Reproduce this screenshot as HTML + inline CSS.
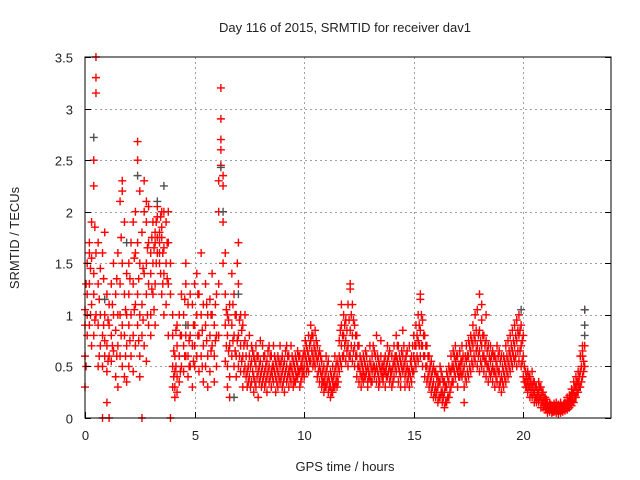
<!DOCTYPE html>
<html><head><meta charset="utf-8"><style>
body{margin:0;background:#fff;}
svg{display:block;font-family:"Liberation Sans",sans-serif;}
</style></head><body>
<svg id="chart" width="640" height="480" viewBox="0 0 640 480">
<rect width="640" height="480" fill="#fff"/>
<g id="grid"></g>
<g id="marks"></g>
<rect x="85" y="57" width="526" height="361" fill="none" stroke="#000" stroke-width="1"/>
<g id="ticks"></g>
<text x="345" y="32" text-anchor="middle" font-size="13" fill="#222">Day 116 of 2015, SRMTID for receiver dav1</text>
<text x="345" y="471" text-anchor="middle" font-size="13" fill="#222">GPS time / hours</text>
<text x="19" y="238" text-anchor="middle" font-size="13" fill="#222" transform="rotate(-90 19 238)">SRMTID / TECUs</text>
</svg>
<script>
const xTicks=[0,5,10,15,20];
const yTicks=[0,0.5,1,1.5,2,2.5,3,3.5];
const yTickLabels=["0","0.5","1","1.5","2","2.5","3","3.5"];
const redCols=[
[0.0,.3,.6,.9,1.05],[0.1,.8,1.2,1.5,1.0],[0.2,1.6,1.3,.9,1.7],[0.3,1.55,1.1,1.9,.7],[0.4,2.25,2.5,1.4,1.2,.8],[0.5,3.5,3.3,3.15,1.6,1.0],[0.6,1.7,1.3,.5,.9],[0.7,.7,1.0,1.45],[0.8,.5,.8,1.6,0],[0.9,.6,1.0,.75,1.8],
[1.0,.45,.7,1.2,.15],[1.1,.6,.9,0,1.1],[1.2,.8,1.3,.55],[1.3,.65,1.0,1.5],[1.4,.4,.85,1.2],[1.5,.7,1.0,1.6,.3],[1.6,1.3,2.1,1.0,.6],[1.7,2.3,2.2,1.5,.9,.5],[1.8,1.2,1.9,.8,.4],[1.9,.7,1.4,1.0,.35],
[2.0,.9,1.5,1.2,.5],[2.1,1.0,1.7,.6],[2.2,.8,1.3,1.9,.45],[2.3,1.1,1.6,2.0,.7],[2.4,2.68,2.5,1.7,1.2,.9],[2.5,2.2,1.5,1.0,.6,.4],[2.6,1.1,1.8,.8,0],[2.7,1.4,2.0,2.3,.7],[2.8,1.2,1.9,1.5,.55,2.1],[2.9,.9,1.3,1.7,2.05],
[3.0,1.6,1.0,1.4,.8],[3.1,1.5,1.9,1.2],[3.2,1.7,1.8,1.3,.9],[3.3,1.75,1.6,1.95,2.05],[3.4,1.8,1.7,1.6,1.5],[3.5,1.75,1.85,1.2,2.0],[3.6,1.65,2.0,1.0,1.4],[3.7,1.5,1.1,1.9],[3.8,1.3,1.7,2.0,.8],[3.9,1.5,1.2,0],
[4.0,.5,.8,.3,1.0],[4.1,.3,.6,.2,.45],[4.2,.4,.7,.25,.9],[4.3,.6,1.0,.35],[4.4,.5,.8,1.2],[4.5,.7,.45,1.0],[4.6,.8,1.3,.6,1.5],[4.7,.6,1.1,.4,.9],[4.8,.5,.8,1.2],[4.9,.7,1.1,.3],
[5.0,.9,1.3,.5,.7],[5.1,.6,1.0,1.4],[5.2,.8,1.2,.45],[5.3,1.0,.6,1.6],[5.4,.7,1.1,.35],[5.5,.9,.5,1.3],[5.6,.6,1.0,.3],[5.7,.8,1.15,.45],[5.8,1.0,.7,1.4],[5.9,.6,.9,.35],
[6.0,.8,1.2,.5],[6.1,2.3,2.0,1.3,.8],[6.2,3.2,2.9,2.7,2.6,2.45],[6.3,2.35,2.25,1.9,1.5],[6.4,.9,1.6,1.2,.55],[6.5,.5,.8,.3,1.0],[6.6,.7,1.1,.4,.2],[6.7,.9,1.4,.6],[6.8,.5,.8,1.2],[6.9,.6,1.0,.4],
[7.0,.8,1.3,1.7,.5],[7.1,.7,1.0,.45],[7.2,.6,.9,.3],[7.3,.5,.75,1.0],[7.4,.45,.7,.3],[7.5,.4,.6,.8],[7.6,.35,.55,.7],[7.7,.4,.6,.25],[7.8,.5,.7,.3],[7.9,.45,.6,.2],
[8.0,.4,.55,.75],[8.1,.5,.35,.7],[8.2,.45,.3,.6],[8.3,.4,.55,.25],[8.4,.5,.7,.35],[8.5,.3,.45,.6],[8.6,.35,.5,.7],[8.7,.4,.55,.25],[8.8,.45,.6,.3],[8.9,.5,.35,.7],
[9.0,.45,.3,.6],[9.1,.4,.55,.25],[9.2,.5,.7,.35],[9.3,.45,.6,.3],[9.4,.35,.5,.7],[9.5,.4,.55,.3],[9.6,.45,.6,.35],[9.7,.5,.4,.65],[9.8,.45,.3,.6],[9.9,.4,.55,.5],
[10.0,.5,.65,.4],[10.1,.55,.7,.45],[10.2,.6,.8,.45],[10.3,.55,.75,.9],[10.4,.6,.8,.5],[10.5,.65,.85,.5],[10.6,.55,.7,.4],[10.7,.5,.65,.35],[10.8,.4,.55,.3],[10.9,.35,.5,.25],
[11.0,.3,.45,.6],[11.1,.25,.4,.55],[11.2,.3,.45,.2],[11.3,.35,.5,.25],[11.4,.3,.45,.6],[11.5,.4,.55,.3],[11.6,.45,.6,.75],[11.7,.5,.7,.9,1.1],[11.8,.6,.8,1.0],[11.9,.55,.75,.95],
[12.0,.5,.7,1.1],[12.1,.6,.85,1.3,1.25],[12.2,.55,.8,1.1],[12.3,.5,.7,.9],[12.4,.4,.6,.8],[12.5,.35,.5,.7],[12.6,.4,.55,.3],[12.7,.45,.6,.35],[12.8,.4,.5,.65],[12.9,.35,.5,.3],
[13.0,.4,.55,.7],[13.1,.45,.6,.35],[13.2,.4,.5,.65],[13.3,.35,.5,.8],[13.4,.4,.55,.3],[13.5,.45,.6,.75],[13.6,.4,.5,.35],[13.7,.45,.6,.3],[13.8,.4,.55,.7],[13.9,.35,.5,.65],
[14.0,.3,.45,.6],[14.1,.4,.55,.7],[14.2,.45,.6,.8],[14.3,.35,.5,.7],[14.4,.4,.55,.3],[14.5,.45,.6,.85],[14.6,.4,.55,.3],[14.7,.35,.5,.65],[14.8,.3,.45,.7],[14.9,.35,.5,.6],
[15.0,.45,.6,.8],[15.1,.5,.7,.9],[15.2,.55,.75,1.0],[15.3,.6,.85,1.15,1.2],[15.4,.5,.7,.95],[15.5,.4,.6,.8],[15.6,.35,.5,.7],[15.7,.3,.45,.6],[15.8,.25,.4,.55],[15.9,.2,.35,.5],
[16.0,.2,.3,.45],[16.1,.15,.3,.4],[16.2,.2,.35,.5],[16.3,.15,.25,.4],[16.4,.1,.25,.35],[16.5,.15,.3,.45],[16.6,.2,.35,.5],[16.7,.3,.45,.6],[16.8,.35,.5,.65],[16.9,.4,.55,.7],
[17.0,.45,.6,.3],[17.1,.5,.65,.4],[17.2,.4,.55,.7],[17.3,.3,.5,.15],[17.4,.35,.55,.7],[17.5,.4,.6,.75],[17.6,.45,.65,.8],[17.7,.5,.7,.9],[17.8,.55,.75,1.0],[17.9,.5,.7,1.05],
[18.0,.45,.65,.85,1.2],[18.1,.5,.7,.95,1.1],[18.2,.45,.6,.8],[18.3,.4,.55,.75,1.0],[18.4,.35,.5,.7],[18.5,.4,.55,.7],[18.6,.35,.5,.65],[18.7,.3,.45,.6],[18.8,.35,.5,.7],[18.9,.3,.45,.65],
[19.0,.25,.4,.6],[19.1,.3,.45,.6],[19.2,.35,.5,.7],[19.3,.4,.55,.75],[19.4,.45,.6,.8],[19.5,.5,.65,.85],[19.6,.55,.7,.9],[19.7,.5,.75,.95],[19.8,.55,.8,1.0],[19.9,.5,.7,.9],
[20.0,.4,.6,.8],[20.1,.3,.45,.35],[20.2,.25,.35,.45],[20.3,.2,.3,.4],[20.4,.2,.3,.45],[20.5,.15,.25,.35],[20.6,.2,.3,.15],[20.7,.15,.25,.35],[20.8,.1,.2,.3],[20.9,.1,.15,.25],
[21.0,.08,.15,.2],[21.1,.05,.1,.15],[21.2,.06,.1,.15],[21.3,.05,.12,.08],[21.4,.06,.1,.14],[21.5,.05,.1,.15],[21.6,.04,.09,.13],[21.7,.05,.1,.15],[21.8,.06,.12,.08],[21.9,.07,.1,.15],
[22.0,.08,.13,.2],[22.1,.1,.15,.22],[22.2,.12,.2,.28],[22.3,.15,.25,.35],[22.4,.2,.3,.4],[22.5,.25,.35,.45],[22.6,.3,.45,.6],[22.7,.4,.65,.7,.6],[22.8,.5,.7,1.05]
];
const redColsExtra=[
[0.05,.5,1.3],[0.25,1.0,1.45],[0.45,1.85,.95],[0.65,1.15,.6],[0.85,.9,1.35],[1.05,.55,.95],[1.25,.7,1.1],[1.45,.6,1.35],[1.65,.8,1.75],[1.85,1.05,.6],
[2.05,.75,1.35],[2.25,1.05,1.55],[2.45,1.35,.75],[2.65,1.45,.95],[2.85,1.0,1.65],[3.05,1.25,1.75],[3.15,1.65,1.05],[3.25,1.5,1.9],[3.45,1.95,1.4],[3.55,1.6,1.3],[3.75,1.7,1.35],
[4.05,.65,.4],[4.15,.5,.85],[4.35,.8,.45],[4.55,.6,1.15],[4.75,.75,.5],[4.95,.9,.55],[5.15,.8,1.2],[5.35,.85,.5],[5.55,.75,1.1],[5.75,.65,1.0],[5.95,.75,1.1],
[6.45,.7,1.05],[6.55,.65,.95],[6.75,.75,1.1],[6.85,.65,1.0],[6.95,.75,1.5],[7.05,.6,.95],[7.15,.55,.85],[7.25,.45,.7],[7.35,.6,.4],[7.45,.5,.35],[7.55,.5,.3],[7.65,.45,.65],[7.75,.55,.35],[7.85,.4,.6],[7.95,.5,.35],
[8.05,.45,.3],[8.15,.6,.4],[8.25,.5,.35],[8.35,.45,.65],[8.45,.4,.6],[8.55,.5,.4],[8.65,.45,.6],[8.75,.5,.35],[8.85,.4,.55],[8.95,.55,.4],
[9.05,.5,.35],[9.15,.45,.65],[9.25,.4,.6],[9.35,.5,.4],[9.45,.45,.6],[9.55,.5,.35],[9.65,.55,.4],[9.75,.45,.6],[9.85,.5,.35],[9.95,.45,.6],
[10.05,.6,.75],[10.15,.5,.65],[10.25,.7,.55],[10.35,.65,.8],[10.45,.7,.55],[10.55,.6,.75],[10.65,.6,.45],[10.75,.45,.6],[10.85,.45,.35],[10.95,.4,.3],
[11.05,.35,.5],[11.15,.35,.3],[11.25,.4,.25],[11.35,.4,.3],[11.45,.35,.5],[11.55,.5,.35],[11.65,.55,.85],[11.75,.6,.8],[11.85,.7,.9],[11.95,.65,.85],
[12.05,.6,.95],[12.15,.7,1.0],[12.25,.65,.95],[12.35,.6,.8],[12.45,.5,.7],[12.55,.45,.6],[12.65,.5,.4],[12.75,.55,.4],[12.85,.45,.6],[12.95,.45,.4],
[13.05,.5,.35],[13.15,.5,.7],[13.25,.45,.6],[13.35,.45,.6],[13.45,.5,.35],[13.55,.5,.4],[13.65,.55,.45],[13.75,.5,.4],[13.85,.45,.6],[13.95,.45,.4],
[14.05,.5,.35],[14.15,.5,.6],[14.25,.55,.7],[14.35,.45,.6],[14.45,.5,.65],[14.55,.5,.7],[14.65,.45,.6],[14.75,.45,.4],[14.85,.55,.4],[14.95,.45,.7],
[15.05,.55,.7],[15.15,.6,.8],[15.25,.7,.9],[15.35,.7,1.0],[15.45,.6,.8],[15.55,.5,.7],[15.65,.4,.6],[15.75,.35,.5],[15.85,.3,.45],[15.95,.25,.45],
[16.05,.25,.4],[16.15,.2,.35],[16.25,.25,.45],[16.35,.2,.35],[16.45,.15,.3],[16.55,.2,.4],[16.65,.25,.45],[16.75,.35,.5],[16.85,.45,.6],[16.95,.5,.6],
[17.05,.5,.4],[17.15,.55,.45],[17.25,.45,.6],[17.35,.4,.6],[17.45,.45,.6],[17.55,.5,.7],[17.65,.55,.75],[17.75,.6,.8],[17.85,.65,.85],[17.95,.6,.8],
[18.05,.55,.75],[18.15,.6,.8],[18.25,.55,.7],[18.35,.5,.65],[18.45,.45,.6],[18.55,.45,.6],[18.65,.45,.6],[18.75,.4,.55],[18.85,.45,.6],[18.95,.35,.55],
[19.05,.35,.5],[19.15,.4,.55],[19.25,.45,.6],[19.35,.5,.65],[19.45,.55,.7],[19.55,.6,.75],[19.65,.6,.8],[19.75,.65,.85],[19.85,.65,.85],[19.95,.55,.75],
[20.05,.5,.35],[20.15,.4,.3],[20.25,.3,.4],[20.35,.25,.35],[20.45,.25,.35],[20.55,.2,.3],[20.65,.25,.2],[20.75,.2,.3],[20.85,.15,.25],[20.95,.12,.2],
[21.05,.1,.18],[21.15,.08,.12],[21.25,.08,.13],[21.35,.1,.06],[21.45,.08,.12],[21.55,.07,.12],[21.65,.07,.11],[21.75,.08,.12],[21.85,.09,.14],[21.95,.1,.14],
[22.05,.1,.17],[22.15,.13,.2],[22.25,.16,.24],[22.35,.2,.3],[22.45,.25,.35],[22.55,.3,.4],[22.65,.35,.5],[22.75,.45,.55]
];
const grayTimes=[0.4,0.9,1.9,2.4,3.3,3.6,6.2,6.3,6.8,19.9,22.8,22.8,22.8,4.6,7.0];
const grayValues=[2.72,1.15,1.7,2.35,2.1,2.25,2.43,2.0,0.2,1.05,1.05,0.9,0.8,0.9,1.2];

const X0=85,X1=611,Y0=418,Y1=57,XMAX=24,YMAX=3.5;
const sx=v=>X0+(v/XMAX)*(X1-X0);
const sy=v=>Y0-(v/YMAX)*(Y0-Y1);
const NS="http://www.w3.org/2000/svg";
const grid=document.getElementById('grid'),ticks=document.getElementById('ticks'),marks=document.getElementById('marks');
function ln(p,x1,y1,x2,y2,st,dash){const l=document.createElementNS(NS,'line');l.setAttribute('x1',x1);l.setAttribute('y1',y1);l.setAttribute('x2',x2);l.setAttribute('y2',y2);l.setAttribute('stroke',st);if(dash)l.setAttribute('stroke-dasharray',dash);p.appendChild(l);return l;}
function tx(p,x,y,s,anchor){const t=document.createElementNS(NS,'text');t.setAttribute('x',x);t.setAttribute('y',y);t.setAttribute('text-anchor',anchor);t.setAttribute('font-size','13');t.setAttribute('fill','#222');t.textContent=s;p.appendChild(t);return t;}
yTicks.forEach((v,i)=>{const y=Math.round(sy(v))+0.5;
 if(v>0&&v<YMAX){const g=ln(grid,X0,y,X1,y,'#a0a0a0','2,3');
 
 }
 const a=ln(ticks,X0,y,X0+6,y,'#000');
 
 const b=ln(ticks,X1-6,y,X1,y,'#000');
 
 const t=tx(ticks,X0-12,y+5,yTickLabels[i],'end');
 });
xTicks.forEach(v=>{const x=Math.round(sx(v))+0.5;
 if(v>0){const g=ln(grid,x,Y1,x,Y0,'#a0a0a0','2,3');
 
 }
 const a=ln(ticks,x,Y0-6,x,Y0,'#000');
 
 const t=tx(ticks,x,Y0+22,String(v),'middle');
 });
function plus(x,y,col,name){const p=document.createElementNS(NS,'path');
 p.setAttribute('d',`M${x-4} ${y}H${x+4}M${x} ${y-4}V${y+4}`);
 p.setAttribute('stroke',col);p.setAttribute('stroke-width','1.4');
 
 
 marks.appendChild(p);}
redCols.forEach(c=>{for(let k=1;k<c.length;k++)plus(sx(c[0]),sy(c[k]),'#ff0000','srmtid-point-red');});
redColsExtra.forEach(c=>{for(let k=1;k<c.length;k++)plus(sx(c[0]),sy(c[k]),'#ff0000','srmtid-point-red');});
grayTimes.forEach((t,i)=>plus(sx(t),sy(grayValues[i]),'#505050','srmtid-point-gray'));
</script>
</body></html>
